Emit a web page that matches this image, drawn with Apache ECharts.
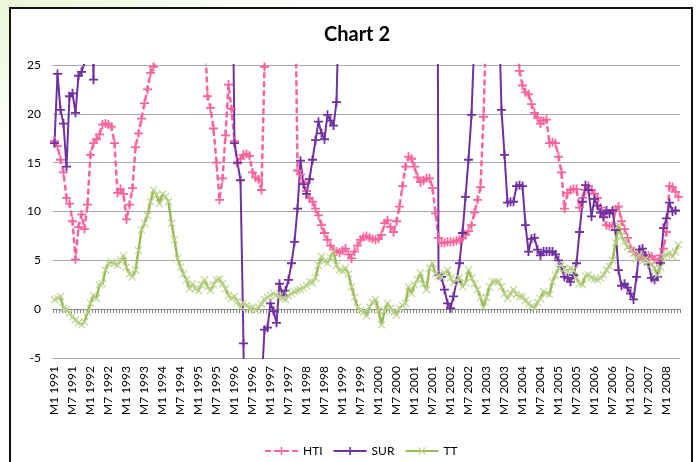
<!DOCTYPE html>
<html>
<head>
<meta charset="utf-8">
<script src="https://cdn.jsdelivr.net/npm/echarts@6/dist/echarts.min.js"></script>
<style>
  html, body { margin: 0; padding: 0; width: 697px; height: 462px; overflow: hidden; background: #ffffff; }
  #bg { position: absolute; left: 0; top: 0; width: 697px; height: 462px;
        background: radial-gradient(ellipse 320px 160px at 0px 0px, #e9f6d6 0%, #f4fbea 45%, #ffffff 100%); }
  #box { position: absolute; left: 9px; top: 7px; width: 680px; height: 470px; border: 2px solid #111; background: #fff; }
  #c { position: absolute; left: 0; top: 0; width: 697px; height: 462px; }
</style>
</head>
<body>
<div id="bg"></div>
<div id="box"></div>
<div id="c"></div>
<script>
// ---- data ----
const startYear = 1991;
const monthCount = 209; // M1 1991 .. M5 2008
const categories = [];
for (let k = 0; k < monthCount; k++) {
  categories.push('M' + (k % 12 + 1) + ' ' + (startYear + Math.floor(k / 12)));
}
const yTicks = [-5, 0, 5, 10, 15, 20, 25];

const HTI = [
  17.2,16.7,15.3,14.0,11.4,10.8,9.0,5.1,8.4,9.7,
  8.2,10.7,15.8,17.0,17.4,17.9,18.9,19.0,18.9,18.7,
  17.0,11.9,12.3,11.8,9.2,10.7,12.4,16.6,18.0,19.5,
  21.1,22.5,24.2,24.8,25.6,28,31,34,37,39,
  41,42,43,42,41,40,38,36,34,32,
  29,21.8,20.6,18.5,15.0,11.2,13.4,17.8,23.0,20.5,
  17.2,14.9,15.4,15.8,15.9,15.7,14.0,13.5,13.3,12.2,
  24.8,30,34,37,40,42,43,44,44,43,
  40,14.2,13.8,13.0,12.1,11.4,11.0,10.3,9.6,8.6,
  7.8,7.1,6.5,6.1,5.9,5.8,6.0,6.2,5.6,5.2,
  5.9,6.5,7.1,7.4,7.5,7.3,7.2,7.1,7.2,7.6,
  8.8,9.1,8.4,7.9,9.0,10.5,12.6,14.6,15.6,15.4,
  14.6,13.5,13.0,13.2,13.4,13.4,12.4,9.8,7.3,6.8,
  6.8,6.9,6.9,6.9,7.0,7.1,7.3,7.6,8.0,8.6,
  9.9,11.2,12.5,19.7,30,36,42,46,48,47,
  45,42,38,34,28,24.4,22.9,22.2,22.0,21.0,
  20.1,19.6,19.0,19.3,19.4,17.0,17.1,17.0,15.6,14.0,
  10.3,11.9,12.2,12.3,12.3,10.4,11.4,12.2,12.6,12.2,
  11.8,11.4,10.4,9.5,8.6,8.5,8.5,10.2,10.5,9.0,
  8.2,7.3,6.3,5.9,5.6,5.4,5.3,5.3,5.5,5.4,
  5.1,4.8,5.5,6.2,7.9,12.6,12.5,12.0,11.5
];

const SUR = [
  17.0,24.1,20.4,19.0,14.6,21.8,22.1,20.1,23.9,24.3,
  25.2,34,40,23.5,42,44,48,50,52,54,
  55,54,52,50,48,46,44,42,40,40,
  41,43,45,47,48,50,52,54,55,56,
  57,58,58,57,56,55,54,53,52,52,
  51,50,49,48,47,46,45,44,43,44,
  17.0,15.0,13.2,-3.5,-40,-35,-30,-25,-18,-8,
  -2.1,-1.9,0.6,-0.2,-1.4,2.6,1.4,1.9,3.0,4.7,
  6.9,10.3,15.2,12.8,11.8,13.3,15.3,17.3,19.2,18.0,
  17.4,19.9,19.3,18.8,21.2,34,42,50,58,64,
  70,74,76,78,80,82,84,85,86,86,
  85,84,84,85,86,88,90,92,94,95,
  96,97,98,100,104,108,110,112,3.5,3.3,
  2.0,0.6,0.1,1.3,2.8,4.7,7.8,11.5,15.3,19.9,
  28,40,46,50,52,52,50,40,32,20.4,
  15.8,10.9,11.0,11.0,12.6,12.7,12.6,8.6,5.9,7.2,
  7.3,6.1,5.5,5.9,5.9,5.9,5.9,5.6,5.0,4.3,
  3.3,3.2,2.8,3.5,4.7,7.9,11.0,12.7,12.2,9.5,
  11.3,10.6,9.9,9.4,10.1,9.8,10.1,8.1,4.0,2.4,
  2.6,2.2,1.6,1.0,3.3,6.1,6.2,5.5,4.6,3.2,
  3.0,3.3,4.7,8.3,9.3,10.9,10.0,10.1,null
];

const TT = [
  1.0,1.1,1.3,0.1,0.0,-0.4,-0.8,-1.1,-1.4,-1.6,
  -1.3,-0.3,0.6,1.4,1.1,2.5,2.6,4.0,4.7,4.8,
  4.7,4.5,5.0,5.5,4.3,3.6,3.3,4.0,6.0,8.1,
  8.8,9.6,11.0,12.2,11.7,10.8,11.8,11.5,11.0,8.8,
  7.1,5.2,4.3,3.6,3.0,2.1,2.6,2.1,1.9,2.5,
  3.0,2.3,1.9,2.5,3.0,3.1,2.6,2.1,1.4,1.1,
  1.3,0.8,0.2,0.6,0.4,0.1,0.2,-0.1,0.2,0.5,
  1.0,1.2,1.4,1.6,1.4,1.3,1.1,1.0,1.4,1.6,
  1.8,1.9,2.0,2.2,2.4,2.8,2.7,3.2,4.5,5.4,
  4.9,4.7,5.3,5.9,4.5,4.0,3.9,4.2,3.6,2.3,
  1.2,0.2,-0.1,-0.3,-0.7,0.2,0.7,1.0,-0.1,-1.6,
  -0.2,0.6,0.1,-0.3,-0.6,0.1,0.4,0.6,2.3,1.6,
  2.5,3.0,3.7,2.6,2.0,4.2,4.7,3.6,3.4,3.3,
  3.7,4.0,3.2,2.7,3.0,3.2,2.3,2.7,4.0,3.2,
  2.6,2.0,1.2,0.2,1.2,2.3,2.8,2.8,2.8,2.3,
  1.6,1.1,1.6,2.0,1.5,1.3,1.3,0.9,0.6,0.3,
  0.1,0.7,1.1,1.8,1.6,1.5,2.8,3.5,4.2,4.5,
  4.1,3.9,4.2,4.0,3.2,2.6,2.5,3.4,3.5,3.2,
  3.1,3.0,3.2,3.5,4.0,4.4,5.0,6.8,8.6,7.5,
  6.9,6.4,6.1,5.7,5.2,5.6,4.9,5.2,4.8,4.6,
  4.2,3.5,4.3,5.4,5.6,5.7,5.4,5.9,6.6
];

// ---- chart ----
const FONT = 'Lato, "Open Sans", sans-serif';
const PLUS = 'path://M4,0H6V10H4Z M0,4H10V6H0Z';
const CROSS = 'path://M0,1L1,0L5,4L9,0L10,1L6,5L10,9L9,10L5,6L1,10L0,9L4,5Z';
const C_HTI = '#f9649f', C_SUR = '#7030a0', C_TT = '#9bbb59', C_TT_MK = '#bcd48f';

const chart = echarts.init(document.getElementById('c'), null, { renderer: 'canvas' });
chart.setOption({
  animation: false,
  backgroundColor: 'transparent',
  title: {
    text: 'Chart 2', left: 319, top: 20,
    textStyle: { fontFamily: FONT, fontSize: 20, fontWeight: 'bold', color: '#000' }
  },
  legend: {
    left: 259, top: 440, itemWidth: 33, itemHeight: 10, itemGap: 10,
    textStyle: { fontFamily: FONT, fontSize: 12, color: '#000' },
    data: ['HTI', 'SUR', 'TT']
  },
  grid: { left: 53, top: 65, width: 627, height: 293, containLabel: false },
  xAxis: [
    {
      type: 'category', data: categories, boundaryGap: true, position: 'bottom',
      axisLine: { show: false, onZero: false }, axisTick: { show: false },
      axisLabel: { interval: 5, rotate: 90, margin: 8, fontFamily: FONT, fontSize: 12, color: '#000' },
      splitLine: { show: false }
    },
    {
      type: 'category', data: categories, boundaryGap: true, position: 'bottom',
      axisLine: { show: true, onZero: true, lineStyle: { color: '#868686', width: 1 } },
      axisTick: { show: true, interval: 0, length: 4, lineStyle: { color: '#868686', width: 1 } },
      axisLabel: { show: false }, splitLine: { show: false }
    }
  ],
  yAxis: {
    type: 'value', min: yTicks[0], max: yTicks[yTicks.length - 1], interval: 5,
    axisLine: { show: false }, axisTick: { show: false },
    axisLabel: { margin: 12, fontFamily: FONT, fontSize: 12, color: '#000' },
    splitLine: { lineStyle: { color: '#a6a6a6', width: 1 } }
  },
  series: [
    {
      name: 'HTI', type: 'line', data: HTI, xAxisIndex: 0, clip: true,
      symbol: PLUS, symbolSize: 9, showAllSymbol: true,
      lineStyle: { color: C_HTI, width: 2.5, type: [6, 3] },
      itemStyle: { color: C_HTI }
    },
    {
      name: 'SUR', type: 'line', data: SUR, xAxisIndex: 0, clip: true,
      symbol: PLUS, symbolSize: 9, showAllSymbol: true,
      lineStyle: { color: C_SUR, width: 2 },
      itemStyle: { color: C_SUR }
    },
    {
      name: 'TT', type: 'line', data: TT, xAxisIndex: 0, clip: true,
      symbol: CROSS, symbolSize: 8, showAllSymbol: true,
      lineStyle: { color: C_TT, width: 2.5 },
      itemStyle: { color: C_TT_MK }
    }
  ]
});
</script>
</body>
</html>
